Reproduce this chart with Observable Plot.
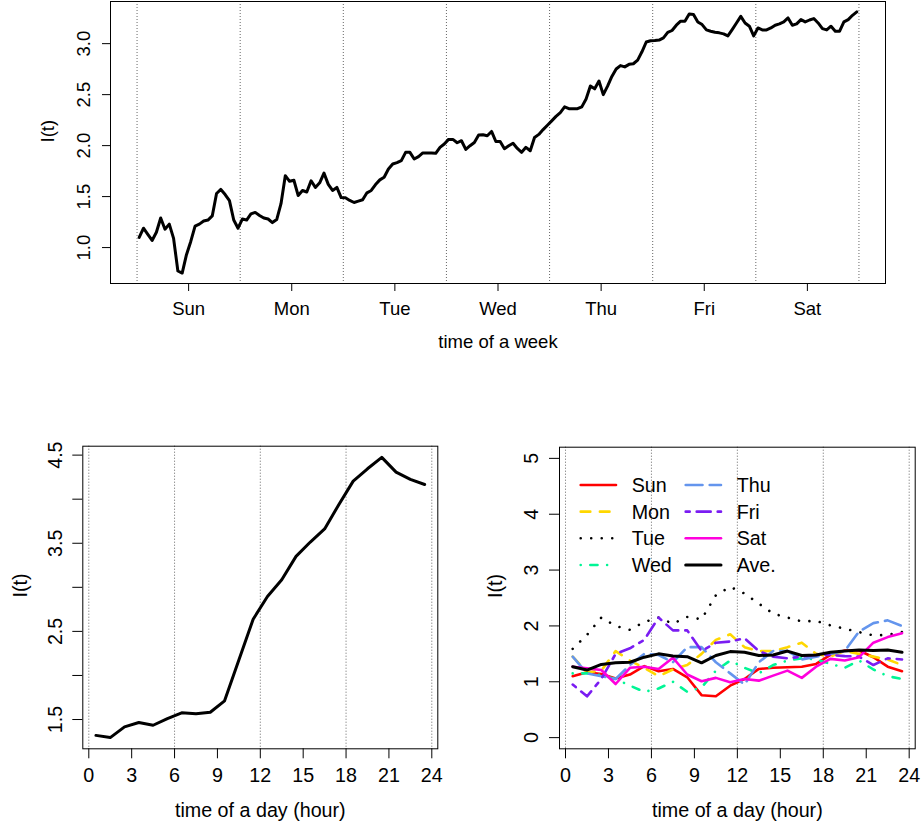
<!DOCTYPE html>
<html><head><meta charset="utf-8">
<script src="https://cdn.jsdelivr.net/npm/d3@7"></script>
<script src="https://cdn.jsdelivr.net/npm/@observablehq/plot@0.6"></script>
<style>
body{margin:0;background:#fff;}
#fig{position:relative;width:922px;height:826px;background:#fff;}
#fig svg{position:absolute;}
</style></head><body><div id="fig"></div>
<script>
const FONT = '"Liberation Sans", Arial, Helvetica, sans-serif';

// ---------- top panel: one week, hourly ----------
const dayNames = ["Sun", "Mon", "Tue", "Wed", "Thu", "Fri", "Sat"];
const weekSun = [1.10, 1.19, 1.13, 1.07, 1.15, 1.29, 1.18, 1.23, 1.09, 0.77, 0.75, 0.93, 1.06, 1.21, 1.23, 1.26, 1.27, 1.31, 1.53, 1.57, 1.52, 1.46, 1.27, 1.19];
const weekMon = [1.28, 1.27, 1.33, 1.345, 1.315, 1.29, 1.28, 1.245, 1.275, 1.43, 1.705, 1.65, 1.66, 1.51, 1.56, 1.545, 1.655, 1.59, 1.635, 1.73, 1.62, 1.56, 1.59, 1.49];
const weekTue = [1.488, 1.462, 1.442, 1.455, 1.469, 1.537, 1.56, 1.618, 1.664, 1.69, 1.771, 1.82, 1.833, 1.853, 1.934, 1.934, 1.869, 1.892, 1.928, 1.928, 1.928, 1.924, 1.983, 2.016];
const weekWed = [2.061, 2.061, 2.028, 2.048, 1.963, 1.999, 2.031, 2.103, 2.106, 2.097, 2.139, 2.04, 2.04, 1.97, 1.998, 2.023, 1.972, 1.934, 1.983, 1.95, 2.08, 2.11, 2.157, 2.2];
const weekThu = [2.243, 2.287, 2.324, 2.38, 2.362, 2.362, 2.362, 2.38, 2.458, 2.585, 2.557, 2.634, 2.5, 2.583, 2.678, 2.751, 2.785, 2.772, 2.797, 2.803, 2.839, 2.92, 3.016, 3.029];
const weekFri = [3.03, 3.035, 3.056, 3.11, 3.129, 3.181, 3.22, 3.22, 3.291, 3.285, 3.213, 3.187, 3.135, 3.122, 3.112, 3.106, 3.096, 3.076, 3.138, 3.203, 3.268, 3.203, 3.171, 3.076];
const weekSat = [3.154, 3.135, 3.135, 3.154, 3.181, 3.194, 3.213, 3.252, 3.181, 3.194, 3.236, 3.213, 3.232, 3.246, 3.203, 3.148, 3.135, 3.171, 3.122, 3.122, 3.213, 3.236, 3.278, 3.311];
const weekYTicks = [1.0, 1.5, 2.0, 2.5, 3.0];

// ---------- bottom-left: average over a day ----------
const dayAvg = [1.32, 1.295, 1.417, 1.466, 1.435, 1.51, 1.576, 1.565, 1.583, 1.712, 2.175, 2.638, 2.896, 3.086, 3.351, 3.514, 3.662, 3.94, 4.205, 4.345, 4.474, 4.307, 4.224, 4.167];
const dayYTicks = [1.5, 2.0, 2.5, 3.0, 3.5, 4.0, 4.5];
const dayYLabels = [1.5, 2.5, 3.5, 4.5];
const hourTicks = [0, 3, 6, 9, 12, 15, 18, 21, 24];
const hourGrid = [0, 6, 12, 18, 24];

// ---------- bottom-right: each weekday over a day ----------
const hSun = [1.10, 1.17, 1.14, 1.06, 1.13, 1.28, 1.19, 1.23, 1.08, 0.76, 0.74, 0.93, 1.05, 1.23, 1.25, 1.26, 1.27, 1.32, 1.48, 1.56, 1.56, 1.44, 1.27, 1.19];
const hMon = [1.45, 1.17, 1.20, 1.55, 1.38, 1.25, 1.10, 1.22, 1.30, 1.50, 1.75, 1.85, 1.62, 1.55, 1.55, 1.62, 1.70, 1.50, 1.45, 1.55, 1.50, 1.45, 1.40, 1.30];
const hTue = [1.59, 1.84, 2.15, 2.00, 1.93, 2.07, 2.15, 2.04, 2.16, 2.12, 2.55, 2.70, 2.58, 2.40, 2.22, 2.15, 2.08, 2.09, 2.01, 1.95, 1.89, 1.83, 1.84, 1.89];
const hWed = [1.15, 1.15, 1.12, 1.05, 0.93, 0.82, 0.88, 1.00, 0.82, 0.90, 1.20, 1.38, 1.25, 1.15, 1.30, 1.38, 1.42, 1.40, 1.32, 1.25, 1.38, 1.22, 1.10, 1.05];
const hThu = [1.45, 1.15, 1.10, 1.05, 1.30, 1.50, 1.48, 1.35, 1.62, 1.62, 1.35, 1.15, 0.95, 1.35, 1.55, 1.55, 1.40, 1.45, 1.50, 1.55, 1.90, 2.05, 2.10, 2.00];
const hFri = [0.95, 0.74, 1.05, 1.50, 1.60, 1.75, 2.15, 1.92, 1.92, 1.55, 1.70, 1.72, 1.78, 1.55, 1.45, 1.42, 1.45, 1.48, 1.48, 1.46, 1.45, 1.30, 1.42, 1.40];
const hSat = [1.27, 1.24, 1.21, 0.96, 1.25, 1.27, 1.23, 1.43, 1.13, 1.01, 1.07, 0.99, 1.05, 1.02, 1.11, 1.20, 1.07, 1.27, 1.41, 1.38, 1.44, 1.70, 1.80, 1.87];
const hAve = [1.27, 1.21, 1.31, 1.34, 1.35, 1.44, 1.50, 1.46, 1.45, 1.34, 1.47, 1.54, 1.53, 1.47, 1.48, 1.55, 1.47, 1.48, 1.53, 1.55, 1.57, 1.56, 1.57, 1.53];
const seriesNames = ["Sun", "Mon", "Tue", "Wed", "Thu", "Fri", "Sat", "Ave."];
const seriesColors = ["#FF0000", "#FFD700", "#000000", "#00F595", "#6495ED", "#7A1CF2", "#FF00DD", "#000000"];
const seriesDash = [null, "9.6,9.6", "0.01,10.5", "0.01,9.6,7.2,9.6", "16.8,7.2", "4,7,14,7", null, null];
const rightYTicks = [0, 1, 2, 3, 4, 5];

// ---------- helpers ----------
function expand(lo, hi) { const p = (hi - lo) * 0.04; return [lo - p, hi + p]; }

const fig = document.getElementById("fig");

// ===== Top panel =====
const weekSeries = [weekSun, weekMon, weekTue, weekWed, weekThu, weekFri, weekSat];
const weekData = weekSeries.flatMap((vals, d) => vals.map((v, h) => ({t: d * 24 + h + 0.5, v})));
const weekTicks = dayNames.map((_, i) => i * 24 + 12);
const dayBounds = d3.range(0, 169, 24);
const wx = d3.extent(weekData, d => d.t), wy = d3.extent(weekData, d => d.v);

const topPlot = Plot.plot({
  width: 922, height: 360,
  marginLeft: 110, marginRight: 37, marginTop: 1, marginBottom: 77,
  style: {fontFamily: FONT, fontSize: "18.5px", background: "transparent", overflow: "visible"},
  x: {domain: expand(wx[0], wx[1]), axis: null},
  y: {domain: expand(wy[0], wy[1]), axis: null},
  marks: [
    Plot.ruleX(dayBounds, {x: d => d, stroke: "#666", strokeDasharray: "1,2"}),
    Plot.line(weekData, {x: "t", y: "v", stroke: "black", strokeWidth: 3}),
    Plot.frame({stroke: "black"}),
    Plot.axisY(weekYTicks, {tickSize: 8, tickPadding: 12.7, tickRotate: -90, tickFormat: d => d.toFixed(1), label: null}),
    Plot.axisX(weekTicks, {tickSize: 8, tickPadding: 10.2, tickFormat: d => dayNames[(d - 12) / 24], label: null}),
    Plot.text(["time of a week"], {text: d => d, frameAnchor: "bottom", dy: 59, lineAnchor: "middle"}),
    Plot.text(["I(t)"], {text: d => d, frameAnchor: "left", dx: -62, rotate: -90, lineAnchor: "middle"})
  ]
});
topPlot.style.left = "0px"; topPlot.style.top = "0px";
fig.appendChild(topPlot);

// ===== Bottom-left panel =====
const hours = d3.range(24).map(h => h + 0.5);
const avgData = hours.map((h, i) => ({h, v: dayAvg[i]}));
const ay = d3.extent(dayAvg);

const leftPlot = Plot.plot({
  width: 460, height: 396,
  marginLeft: 82.3, marginRight: 22.7, marginTop: 15.7, marginBottom: 77.7,
  style: {fontFamily: FONT, fontSize: "19.7px", background: "transparent", overflow: "visible"},
  x: {domain: expand(0.5, 23.5), axis: null},
  y: {domain: expand(ay[0], ay[1]), axis: null},
  marks: [
    Plot.ruleX(hourGrid, {x: d => d, stroke: "#666", strokeDasharray: "1,2"}),
    Plot.line(avgData, {x: "h", y: "v", stroke: "black", strokeWidth: 3}),
    Plot.frame({stroke: "black"}),
    Plot.axisY(dayYTicks, {tickSize: 10, tickPadding: 11.3, tickRotate: -90, tickFormat: d => dayYLabels.includes(d) ? d.toFixed(1) : "", label: null}),
    Plot.axisX(hourTicks, {tickSize: 10, tickPadding: 8.7, tickFormat: d => String(d), label: null}),
    Plot.text(["time of a day (hour)"], {text: d => d, frameAnchor: "bottom", dy: 61.7, lineAnchor: "middle"}),
    Plot.text(["I(t)"], {text: d => d, frameAnchor: "left", dx: -62.3, rotate: -90, lineAnchor: "middle"})
  ]
});
leftPlot.style.left = "0px"; leftPlot.style.top = "430px";
fig.appendChild(leftPlot);

// ===== Bottom-right panel =====
const hourSeries = [hSun, hMon, hTue, hWed, hThu, hFri, hSat, hAve];
const seriesMarks = hourSeries.map((vals, k) => Plot.line(
  hours.map((h, i) => ({h, v: vals[i]})),
  {x: "h", y: "v", stroke: seriesColors[k], strokeWidth: k === 7 ? 3 : 2.6,
   strokeDasharray: seriesDash[k] || undefined, strokeLinecap: "round"}
));

function legendMark(index, scales, values, dims) {
  const g = d3.create("svg:g").attr("font-family", FONT).attr("font-size", 19.7).attr("text-anchor", "start");
  seriesNames.forEach((name, i) => {
    const col = Math.floor(i / 4), row = i % 4;
    const x0 = dims.marginLeft + 21.7 + col * 105;
    const y0 = dims.marginTop + 38.3 + row * 26.65;
    g.append("line")
      .attr("x1", x0).attr("x2", x0 + 35.3).attr("y1", y0).attr("y2", y0)
      .attr("stroke", seriesColors[i]).attr("stroke-width", i === 7 ? 3 : 2.6)
      .attr("stroke-linecap", "round")
      .attr("stroke-dasharray", seriesDash[i]);
    g.append("text").attr("x", x0 + 51).attr("y", y0).attr("dy", "0.35em")
      .attr("text-anchor", "start").attr("fill", "black").text(name);
  });
  return g.node();
}

const rightPlot = Plot.plot({
  width: 462, height: 396,
  marginLeft: 99, marginRight: 7.3, marginTop: 16.7, marginBottom: 77.7,
  style: {fontFamily: FONT, fontSize: "19.7px", background: "transparent", overflow: "visible"},
  x: {domain: expand(0.5, 23.5), axis: null},
  y: {domain: expand(0, 5), axis: null},
  marks: [
    Plot.ruleX(hourGrid, {x: d => d, stroke: "#666", strokeDasharray: "1,2"}),
    ...seriesMarks,
    legendMark,
    Plot.frame({stroke: "black"}),
    Plot.axisY(rightYTicks, {tickSize: 10, tickPadding: 11.3, tickRotate: -90, tickFormat: d => String(d), label: null}),
    Plot.axisX(hourTicks, {tickSize: 10, tickPadding: 8.7, tickFormat: d => String(d), label: null}),
    Plot.text(["time of a day (hour)"], {text: d => d, frameAnchor: "bottom", dy: 61.7, lineAnchor: "middle"}),
    Plot.text(["I(t)"], {text: d => d, frameAnchor: "left", dx: -64, rotate: -90, lineAnchor: "middle"})
  ]
});
rightPlot.style.left = "460px"; rightPlot.style.top = "430px";
fig.appendChild(rightPlot);
</script>
</body></html>
